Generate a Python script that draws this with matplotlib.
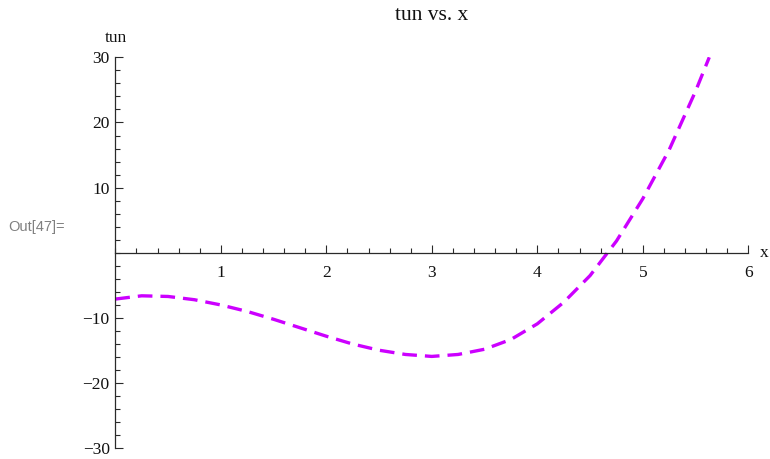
import matplotlib
matplotlib.use("Agg")
import matplotlib.pyplot as plt
from matplotlib.ticker import MultipleLocator, FixedLocator

# Values
x_vals = [0.0, 0.25, 0.5, 0.75, 1.0, 1.25, 1.5, 1.75, 2.0, 2.25, 2.5, 2.75,
          3.0, 3.25, 3.5, 3.75, 4.0, 4.25, 4.5, 4.75, 5.0, 5.25, 5.5, 5.63]
tun_vals = [-7.1, -6.6, -6.7, -7.2, -8.0, -9.0, -10.2, -11.5, -12.8, -14.0,
            -14.95, -15.6, -15.9, -15.6, -14.8, -13.3, -10.9, -7.6, -3.5,
            1.8, 8.3, 15.8, 24.8, 30.0]
x_ticks = [1, 2, 3, 4, 5, 6]
y_ticks = [-30, -20, -10, 10, 20, 30]
y_ticklabels = ["\u221230", "\u221220", "\u221210", "10", "20", "30"]

serif = ["Liberation Serif", "DejaVu Serif"]
axis_col = "#2a2a2a"

fig = plt.figure(figsize=(7.70, 4.59), dpi=100)
W, H = 770, 459
x0, x1 = 115.3, 748.3
ytop, ybot = 57.3, 448.3
ax = fig.add_axes([x0 / W, 1 - ybot / H, (x1 - x0) / W, (ybot - ytop) / H])
ax.set_xlim(0, 6)
ax.set_ylim(-30, 30)

ax.plot(x_vals, tun_vals, color="#cc00ff", lw=2.4, dashes=(4.4, 2.4),
        dash_capstyle="butt", clip_on=True)

for s in ("top", "right"):
    ax.spines[s].set_visible(False)
ax.spines["bottom"].set_position(("data", 0))
ax.spines["left"].set_position(("data", 0))
for s in ("bottom", "left"):
    ax.spines[s].set_color(axis_col)
    ax.spines[s].set_linewidth(0.9)

ax.xaxis.set_major_locator(FixedLocator(x_ticks))
ax.xaxis.set_minor_locator(MultipleLocator(0.2))
ax.yaxis.set_major_locator(FixedLocator(y_ticks))
ax.yaxis.set_minor_locator(MultipleLocator(2))
ax.set_xticklabels([str(t) for t in x_ticks])
ax.set_yticklabels(y_ticklabels)

ax.tick_params(axis="x", which="major", direction="in", length=5.5, width=0.8,
               color=axis_col, pad=9)
ax.tick_params(axis="x", which="minor", direction="in", length=3.3, width=0.8,
               color=axis_col)
ax.tick_params(axis="y", which="major", direction="in", length=5.5, width=0.8,
               color=axis_col, pad=4)
ax.tick_params(axis="y", which="minor", direction="in", length=3.3, width=0.8,
               color=axis_col)
for lab in ax.get_xticklabels() + ax.get_yticklabels():
    lab.set_fontfamily(serif)
    lab.set_fontsize(12.5)
    lab.set_color("#111111")

fig.text(431.8 / W, 1 - 16 / H, "tun vs. x", family=serif, fontsize=15.5,
         ha="center", va="center", color="#111111")
fig.text(115.5 / W, 1 - 38 / H, "tun", family=serif, fontsize=12.5,
         ha="center", va="center", color="#111111")
fig.text(760 / W, 1 - 253 / H, "x", family=serif, fontsize=12.5,
         ha="left", va="center", color="#111111")
fig.text(8 / W, 1 - 227 / H, "Out[47]=", family=["Liberation Sans", "DejaVu Sans"],
         fontsize=10.5, ha="left", va="center", color="#808080")

fig.savefig("out.png", dpi=100)
